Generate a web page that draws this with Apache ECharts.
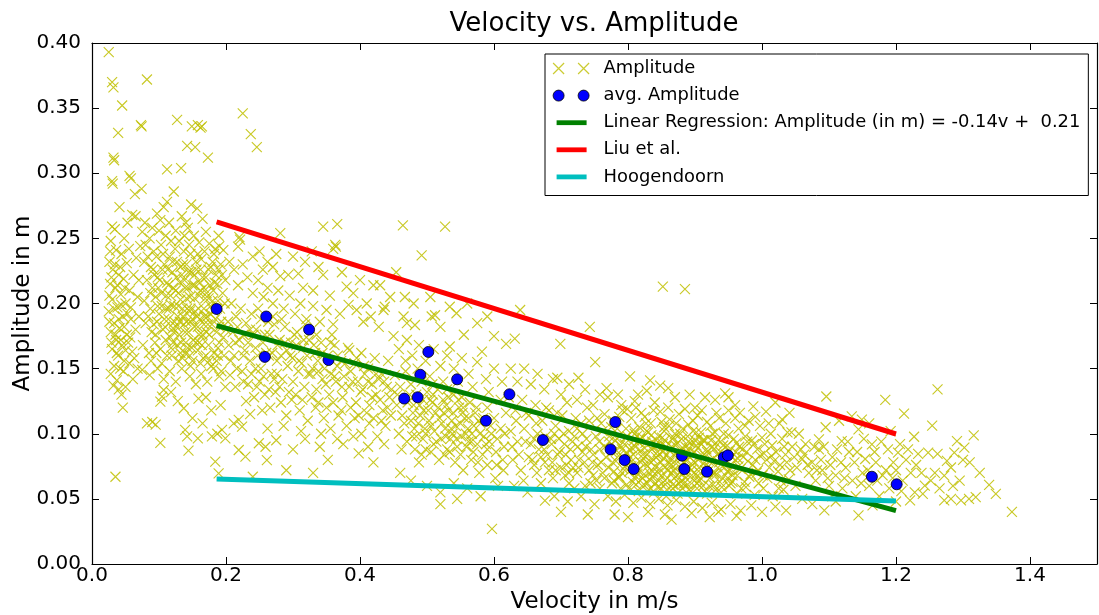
<!DOCTYPE html>
<html>
<head>
<meta charset="utf-8">
<script src="https://cdn.jsdelivr.net/npm/echarts@6/dist/echarts.min.js"></script>
<style>html,body{margin:0;padding:0;background:#fff}#c{width:1099px;height:615px}</style>
</head>
<body>
<div id="c"></div>
<script>
// ---- data ----
const xTicks = [0.0, 0.2, 0.4, 0.6, 0.8, 1.0, 1.2, 1.4];
const yTicks = [0.00, 0.05, 0.10, 0.15, 0.20, 0.25, 0.30, 0.35, 0.40];

// individual measurements [velocity, amplitude]
const amplitudePoints = [
// v 0.02-0.08
[0.025,0.393],[0.030,0.370],[0.032,0.366],[0.045,0.352],[0.039,0.331],[0.032,0.312],[0.033,0.310],[0.030,0.294],[0.031,0.292],[0.041,0.274],
[0.030,0.259],[0.034,0.257],[0.028,0.248],[0.036,0.241],[0.044,0.238],[0.026,0.232],[0.052,0.231],[0.031,0.226],[0.040,0.222],[0.047,0.219],
[0.027,0.215],[0.035,0.212],[0.056,0.210],[0.043,0.207],[0.030,0.203],[0.050,0.200],[0.038,0.197],[0.025,0.194],[0.046,0.190],[0.058,0.188],
[0.033,0.185],[0.041,0.181],[0.028,0.178],[0.052,0.176],[0.036,0.172],[0.045,0.168],[0.030,0.165],[0.060,0.163],[0.039,0.160],[0.048,0.156],
[0.033,0.152],[0.047,0.148],[0.037,0.141],[0.032,0.137],[0.050,0.136],[0.044,0.130],[0.046,0.120],[0.035,0.067],[0.055,0.242],[0.062,0.222],
[0.058,0.197],[0.065,0.180],[0.063,0.158],[0.054,0.170],[0.068,0.205],[0.066,0.235],[0.060,0.268],[0.065,0.267],[0.058,0.296],[0.056,0.298],
[0.064,0.284],[0.074,0.288],[0.074,0.336],[0.073,0.337],[0.082,0.372],
[0.027,0.240],[0.034,0.230],[0.042,0.228],[0.029,0.220],[0.038,0.214],[0.049,0.212],[0.026,0.206],[0.044,0.199],[0.033,0.196],[0.053,0.192],
[0.040,0.188],[0.026,0.186],[0.048,0.182],[0.035,0.176],[0.057,0.174],[0.043,0.172],[0.029,0.170],[0.050,0.164],[0.037,0.162],[0.056,0.154],
[0.042,0.150],[0.028,0.146],[0.061,0.142],[0.040,0.134],[0.068,0.150],[0.070,0.190],[0.070,0.218],[0.072,0.244],[0.048,0.250],[0.053,0.262],
// v 0.08-0.20
[0.097,0.269],[0.102,0.264],[0.112,0.278],[0.107,0.274],[0.112,0.303],[0.133,0.304],[0.122,0.286],[0.127,0.341],[0.149,0.336],[0.158,0.337],
[0.162,0.335],[0.164,0.336],[0.142,0.321],[0.154,0.320],[0.173,0.312],[0.148,0.276],[0.157,0.273],[0.134,0.267],[0.140,0.262],[0.165,0.265],
[0.075,0.255],[0.080,0.245],[0.086,0.250],[0.092,0.240],[0.078,0.232],[0.088,0.228],[0.096,0.236],[0.103,0.245],[0.110,0.252],[0.118,0.248],
[0.125,0.256],[0.130,0.248],[0.138,0.252],[0.145,0.245],[0.152,0.252],[0.160,0.247],[0.168,0.240],[0.175,0.246],[0.182,0.238],[0.190,0.244],
[0.196,0.241],[0.184,0.242],[0.082,0.218],[0.090,0.212],[0.098,0.220],[0.105,0.226],[0.112,0.216],[0.120,0.224],[0.127,0.232],[0.134,0.222],
[0.141,0.230],[0.148,0.224],[0.155,0.232],[0.162,0.226],[0.170,0.220],[0.177,0.228],[0.185,0.222],[0.192,0.230],[0.199,0.218],[0.116,0.236],
[0.137,0.240],[0.158,0.238],[0.078,0.202],[0.087,0.196],[0.095,0.205],[0.104,0.198],[0.111,0.206],[0.118,0.199],[0.125,0.210],[0.132,0.203],
[0.139,0.212],[0.146,0.205],[0.153,0.214],[0.160,0.206],[0.167,0.212],[0.174,0.204],[0.181,0.210],[0.188,0.202],[0.195,0.208],[0.142,0.196],
[0.128,0.190],[0.150,0.188],[0.080,0.185],[0.089,0.178],[0.097,0.186],[0.106,0.180],[0.114,0.188],[0.121,0.181],[0.130,0.176],[0.137,0.184],
[0.144,0.178],[0.151,0.172],[0.158,0.182],[0.165,0.176],[0.172,0.190],[0.179,0.184],[0.186,0.178],[0.193,0.186],[0.200,0.180],[0.076,0.168],
[0.085,0.162],[0.094,0.170],[0.102,0.165],[0.110,0.172],[0.119,0.160],[0.127,0.168],[0.135,0.158],[0.143,0.166],[0.150,0.156],[0.158,0.164],
[0.166,0.158],[0.174,0.168],[0.182,0.162],[0.190,0.170],[0.197,0.160],[0.075,0.149],[0.086,0.145],[0.098,0.150],[0.107,0.142],[0.116,0.148],
[0.125,0.140],[0.134,0.150],[0.146,0.144],[0.155,0.138],[0.163,0.146],[0.172,0.140],[0.181,0.150],[0.190,0.144],[0.199,0.136],[0.1045,0.1285],
[0.107,0.1336],[0.102,0.1246],[0.159,0.127],[0.137,0.1196],[0.090,0.109],[0.082,0.108],[0.095,0.107],[0.139,0.103],[0.142,0.098],[0.158,0.0965],
[0.144,0.087],[0.102,0.093],[0.184,0.0786],[0.189,0.0696],[0.179,0.098],[0.187,0.100],[0.194,0.103],[0.199,0.0965],[0.118,0.132],[0.128,0.125],
[0.170,0.128],[0.178,0.118],[0.192,0.122],[0.150,0.112],[0.165,0.108],
[0.083,0.236],[0.091,0.226],[0.099,0.212],[0.106,0.238],[0.113,0.226],[0.121,0.212],[0.124,0.242],[0.131,0.216],[0.136,0.230],[0.143,0.212],
[0.147,0.238],[0.153,0.222],[0.161,0.216],[0.163,0.234],[0.169,0.204],[0.176,0.214],[0.180,0.232],[0.187,0.215],[0.194,0.222],[0.198,0.200],
[0.084,0.190],[0.092,0.184],[0.100,0.192],[0.108,0.188],[0.115,0.196],[0.123,0.186],[0.129,0.198],[0.136,0.190],[0.140,0.170],[0.147,0.186],
[0.154,0.194],[0.161,0.188],[0.167,0.196],[0.171,0.178],[0.177,0.198],[0.184,0.188],[0.191,0.196],[0.196,0.174],
[0.088,0.156],[0.096,0.162],[0.104,0.154],[0.112,0.160],[0.121,0.170],[0.129,0.156],[0.139,0.162],[0.147,0.152],[0.155,0.170],[0.162,0.154],
[0.170,0.160],[0.178,0.152],[0.186,0.156],[0.193,0.148],
[0.079,0.262],[0.090,0.258],[0.100,0.256],[0.115,0.262],[0.143,0.258],[0.170,0.255],[0.189,0.252],
[0.101,0.218],[0.104,0.208],[0.108,0.230],[0.111,0.196],[0.114,0.214],[0.117,0.206],[0.120,0.232],[0.123,0.198],[0.126,0.220],[0.129,0.208],
[0.132,0.228],[0.135,0.196],[0.138,0.218],[0.141,0.204],[0.144,0.224],[0.147,0.196],[0.150,0.214],[0.153,0.204],[0.156,0.226],[0.159,0.196],
[0.162,0.210],[0.165,0.220],[0.168,0.190],[0.171,0.208],[0.174,0.226],[0.177,0.192],[0.180,0.202],[0.183,0.216],[0.186,0.196],[0.189,0.226],
[0.122,0.178],[0.131,0.186],[0.139,0.178],[0.146,0.194],[0.153,0.182],[0.160,0.176],[0.167,0.184],[0.175,0.176],[0.182,0.194],[0.190,0.182],
[0.109,0.182],[0.117,0.174],[0.126,0.182],[0.133,0.170],[0.141,0.186],[0.149,0.166],[0.157,0.190],[0.164,0.168],[0.173,0.184],[0.188,0.166],
[0.118,0.166],[0.132,0.162],[0.146,0.160],[0.160,0.170],[0.175,0.156],[0.188,0.160],[0.098,0.198],[0.093,0.222],[0.087,0.208],[0.095,0.176],
// v 0.20-0.45
[0.225,0.346],[0.237,0.330],[0.246,0.320],[0.281,0.254],[0.345,0.259],[0.366,0.261],[0.363,0.245],[0.360,0.242],[0.364,0.2436],[0.220,0.251],
[0.218,0.2436],[0.221,0.249],[0.338,0.228],[0.345,0.222],[0.380,0.213],[0.373,0.224],[0.281,0.221],[0.293,0.222],[0.308,0.223],[0.420,0.214],
[0.430,0.214],[0.454,0.224],[0.464,0.260],[0.527,0.259],[0.492,0.237],
[0.205,0.232],[0.212,0.226],[0.218,0.214],[0.225,0.230],[0.232,0.220],[0.240,0.208],[0.248,0.218],[0.256,0.205],[0.262,0.212],[0.270,0.200],
[0.278,0.210],[0.286,0.196],[0.295,0.206],[0.303,0.192],[0.311,0.200],[0.320,0.188],[0.330,0.198],[0.340,0.186],[0.350,0.195],[0.360,0.184],
[0.370,0.192],[0.383,0.199],[0.395,0.195],[0.405,0.186],[0.416,0.190],[0.428,0.182],[0.437,0.1975],[0.435,0.195],
[0.208,0.200],[0.215,0.190],[0.222,0.196],[0.230,0.185],[0.238,0.192],[0.245,0.180],[0.252,0.188],[0.265,0.176],[0.272,0.184],[0.280,0.172],
[0.288,0.182],[0.297,0.170],[0.306,0.178],[0.315,0.166],[0.324,0.172],[0.333,0.162],[0.342,0.170],[0.352,0.160],[0.362,0.168],[0.372,0.156],
[0.382,0.166],[0.392,0.154],[0.402,0.162],[0.412,0.150],[0.422,0.158],[0.432,0.146],[0.442,0.156],
[0.204,0.168],[0.212,0.160],[0.220,0.172],[0.228,0.164],[0.236,0.156],[0.244,0.166],[0.252,0.150],[0.260,0.162],[0.268,0.146],[0.276,0.156],
[0.284,0.142],[0.292,0.152],[0.300,0.140],[0.308,0.148],[0.317,0.136],[0.326,0.146],[0.335,0.134],[0.344,0.142],[0.354,0.130],[0.364,0.140],
[0.374,0.128],[0.384,0.136],[0.394,0.124],[0.404,0.134],[0.414,0.122],[0.424,0.130],[0.434,0.118],[0.444,0.128],
[0.206,0.145],[0.214,0.136],[0.224,0.148],[0.233,0.138],[0.242,0.128],[0.250,0.140],[0.258,0.130],[0.266,0.120],[0.274,0.132],[0.282,0.124],
[0.290,0.114],[0.298,0.126],[0.310,0.118],[0.322,0.110],[0.334,0.120],[0.346,0.112],[0.356,0.104],[0.368,0.114],[0.380,0.106],[0.392,0.112],
[0.402,0.100],[0.414,0.108],[0.426,0.098],[0.438,0.106],
[0.2115,0.108],[0.219,0.1106],[0.224,0.1054],[0.249,0.0927],[0.259,0.090],[0.261,0.0798],[0.219,0.0875],[0.229,0.0824],[0.275,0.095],[0.300,0.088],
[0.318,0.096],[0.340,0.090],[0.352,0.080],[0.375,0.092],[0.398,0.085],[0.420,0.078],[0.290,0.072],[0.330,0.070],[0.240,0.067],[0.262,0.104],
[0.236,0.115],[0.250,0.240],[0.262,0.232],[0.275,0.238],[0.300,0.236],[0.318,0.232],[0.328,0.240],[0.255,0.226],[0.270,0.228],[0.240,0.236],
[0.315,0.212],[0.330,0.210],[0.355,0.206],[0.390,0.208],[0.400,0.218],[0.410,0.200],[0.445,0.205],[0.467,0.205],[0.465,0.190],[0.482,0.1835],
[0.507,0.190],[0.512,0.191],[0.534,0.1975],[0.544,0.1925],[0.534,0.167],[0.582,0.163],
[0.203,0.186],[0.210,0.178],[0.217,0.182],[0.226,0.176],[0.233,0.170],[0.241,0.176],[0.247,0.160],[0.255,0.170],[0.263,0.186],[0.269,0.162],
[0.277,0.168],[0.283,0.188],[0.291,0.164],[0.299,0.158],[0.305,0.168],[0.313,0.154],[0.321,0.160],[0.329,0.150],[0.337,0.156],[0.347,0.150],
[0.357,0.146],[0.366,0.152],[0.376,0.144],[0.386,0.148],[0.397,0.140],[0.407,0.146],[0.418,0.138],[0.428,0.142],[0.440,0.136],
[0.207,0.156],[0.216,0.150],[0.226,0.140],[0.238,0.146],[0.246,0.136],[0.256,0.144],[0.264,0.134],[0.272,0.142],[0.280,0.136],[0.294,0.132],
[0.304,0.130],[0.314,0.126],[0.328,0.128],[0.338,0.124],[0.350,0.120],[0.360,0.124],[0.372,0.118],[0.386,0.120],[0.398,0.114],[0.410,0.116],
[0.420,0.112],[0.432,0.110],[0.446,0.114],
[0.230,0.125],[0.254,0.118],[0.286,0.106],[0.312,0.102],[0.342,0.100],[0.366,0.096],[0.390,0.098],[0.412,0.090],[0.436,0.092],
[0.288,0.170],[0.296,0.160],[0.302,0.176],[0.309,0.156],[0.316,0.172],[0.323,0.146],[0.331,0.168],[0.338,0.148],[0.344,0.162],[0.349,0.138],
[0.356,0.170],[0.362,0.144],[0.367,0.160],[0.373,0.136],[0.378,0.154],[0.384,0.164],[0.389,0.140],[0.395,0.158],[0.401,0.132],[0.406,0.152],
[0.412,0.140],[0.418,0.128],[0.424,0.146],[0.430,0.126],[0.436,0.140],[0.441,0.120],[0.447,0.134],
[0.258,0.176],[0.264,0.160],[0.270,0.190],[0.276,0.146],[0.282,0.160],[0.248,0.196],[0.236,0.180],[0.226,0.160],[0.214,0.170],[0.244,0.150],
[0.318,0.184],[0.335,0.176],[0.358,0.176],
// v 0.45-0.62
[0.450,0.175],[0.458,0.165],[0.470,0.172],[0.478,0.160],[0.488,0.168],[0.498,0.156],[0.510,0.165],[0.520,0.152],[0.530,0.160],[0.540,0.150],
[0.552,0.158],[0.562,0.146],[0.575,0.155],[0.588,0.142],[0.600,0.150],[0.612,0.140],
[0.452,0.145],[0.460,0.136],[0.468,0.148],[0.476,0.138],[0.484,0.130],[0.492,0.140],[0.500,0.132],[0.508,0.124],[0.516,0.134],[0.524,0.126],
[0.532,0.118],[0.540,0.130],[0.548,0.120],[0.556,0.112],[0.564,0.124],[0.572,0.116],[0.580,0.108],[0.590,0.120],[0.600,0.112],[0.610,0.104],
[0.618,0.116],[0.455,0.122],[0.463,0.114],[0.471,0.124],[0.479,0.116],[0.487,0.108],[0.495,0.118],[0.503,0.110],[0.511,0.102],[0.519,0.112],
[0.527,0.104],[0.535,0.096],[0.543,0.106],[0.551,0.098],[0.559,0.090],[0.567,0.100],[0.575,0.092],[0.583,0.084],[0.593,0.094],[0.603,0.086],
[0.613,0.080],[0.458,0.100],[0.470,0.094],[0.482,0.088],[0.494,0.096],[0.506,0.086],[0.518,0.080],[0.530,0.088],[0.542,0.078],[0.554,0.072],
[0.566,0.080],[0.578,0.070],[0.590,0.076],[0.602,0.066],[0.614,0.072],[0.460,0.070],[0.476,0.064],[0.500,0.060],[0.520,0.055],[0.540,0.062],
[0.560,0.058],[0.580,0.052],[0.520,0.046],[0.545,0.050],[0.597,0.027],[0.606,0.060],[0.488,0.078],[0.505,0.205],[0.520,0.182],[0.555,0.176],
[0.590,0.190],[0.560,0.200],[0.600,0.175],[0.575,0.185],[0.480,0.200],[0.470,0.185],
[0.456,0.130],[0.466,0.108],[0.474,0.130],[0.481,0.104],[0.489,0.122],[0.497,0.104],[0.505,0.126],[0.513,0.116],[0.521,0.096],[0.529,0.122],
[0.537,0.110],[0.545,0.090],[0.553,0.116],[0.561,0.104],[0.569,0.086],[0.577,0.110],[0.585,0.098],[0.595,0.106],[0.605,0.096],[0.615,0.090],
[0.462,0.088],[0.478,0.098],[0.492,0.084],[0.510,0.092],[0.526,0.084],[0.538,0.100],[0.550,0.084],[0.562,0.094],[0.576,0.078],[0.590,0.088],
[0.604,0.076],[0.616,0.100],[0.468,0.156],[0.486,0.150],[0.504,0.144],[0.524,0.140],[0.546,0.140],[0.568,0.136],[0.592,0.132],[0.610,0.126],
[0.476,0.110],[0.480,0.122],[0.484,0.098],[0.490,0.114],[0.494,0.126],[0.498,0.100],[0.502,0.118],[0.506,0.106],[0.509,0.130],[0.514,0.094],
[0.517,0.120],[0.522,0.108],[0.525,0.116],[0.528,0.098],[0.532,0.128],[0.536,0.104],[0.539,0.116],[0.544,0.096],[0.547,0.126],[0.550,0.108],
[0.554,0.120],[0.558,0.100],[0.562,0.112],[0.566,0.094],[0.570,0.106],[0.574,0.120],[0.579,0.100],[0.584,0.112],[0.588,0.092],[0.596,0.100],
[0.508,0.138],[0.530,0.134],[0.552,0.128],[0.498,0.088],[0.534,0.086],
// v 0.62-0.78
[0.639,0.195],[0.631,0.173],[0.618,0.169],[0.699,0.169],[0.743,0.182],[0.751,0.155],[0.6945,0.143],[0.726,0.143],[0.676,0.0486],
[0.625,0.150],[0.635,0.140],[0.645,0.150],[0.655,0.138],[0.665,0.146],[0.675,0.134],[0.688,0.142],[0.700,0.130],[0.712,0.138],[0.724,0.126],
[0.736,0.134],[0.748,0.122],[0.758,0.130],[0.622,0.128],[0.632,0.118],[0.642,0.126],[0.652,0.114],[0.662,0.122],[0.672,0.110],[0.682,0.118],
[0.692,0.106],[0.702,0.114],[0.712,0.102],[0.722,0.112],[0.732,0.100],[0.742,0.110],[0.752,0.098],[0.760,0.108],[0.625,0.102],[0.635,0.094],
[0.645,0.104],[0.655,0.092],[0.665,0.100],[0.675,0.088],[0.685,0.096],[0.695,0.084],[0.705,0.092],[0.715,0.080],[0.725,0.090],[0.735,0.078],
[0.745,0.088],[0.755,0.076],[0.628,0.080],[0.640,0.072],[0.652,0.082],[0.664,0.070],[0.676,0.078],[0.688,0.066],[0.700,0.074],[0.712,0.062],
[0.724,0.070],[0.736,0.060],[0.748,0.068],[0.758,0.058],[0.630,0.060],[0.650,0.055],[0.670,0.062],[0.690,0.052],[0.710,0.048],[0.730,0.052],
[0.750,0.046],[0.700,0.040],[0.740,0.038],
[0.627,0.090],[0.637,0.084],[0.647,0.094],[0.657,0.080],[0.667,0.088],[0.677,0.098],[0.687,0.078],[0.697,0.096],[0.707,0.084],[0.717,0.094],
[0.727,0.080],[0.737,0.090],[0.747,0.078],[0.757,0.094],[0.633,0.110],[0.648,0.116],[0.663,0.108],[0.678,0.120],[0.694,0.116],[0.709,0.124],
[0.724,0.104],[0.739,0.120],[0.754,0.112],[0.644,0.064],[0.660,0.076],[0.682,0.072],[0.706,0.068],[0.720,0.058],[0.744,0.062],[0.718,0.074],
[0.680,0.084],[0.686,0.092],[0.692,0.072],[0.698,0.086],[0.704,0.100],[0.708,0.076],[0.714,0.088],[0.720,0.098],[0.726,0.074],[0.732,0.086],
[0.738,0.096],[0.742,0.072],[0.748,0.084],[0.753,0.064],[0.758,0.088],[0.762,0.070],[0.767,0.082],[0.772,0.094],[0.777,0.078],[0.779,0.064],
[0.660,0.096],[0.670,0.082],[0.690,0.100],[0.712,0.070],[0.730,0.108],
// v 0.76-1.05
[0.852,0.213],[0.885,0.211],[0.803,0.144],[0.848,0.137],[0.833,0.141],[0.865,0.034],[0.922,0.036],[0.962,0.037],[0.945,0.131],[0.987,0.121],
[1.006,0.117],[0.967,0.116],[0.997,0.106],[1.041,0.116],[1.038,0.101],[1.026,0.108],
[0.770,0.128],[0.790,0.122],[0.815,0.130],[0.840,0.124],[0.870,0.128],[0.900,0.120],[0.930,0.126],[0.960,0.122],[1.020,0.124],
[0.765,0.115],[0.778,0.110],[0.792,0.118],[0.805,0.112],[0.820,0.116],[0.834,0.108],[0.848,0.117],[0.862,0.111],[0.876,0.115],[0.890,0.107],
[0.904,0.114],[0.918,0.109],[0.932,0.116],[0.946,0.108],[0.960,0.112],[0.975,0.106],[0.990,0.113],[1.010,0.108],[1.030,0.111],
[0.762,0.102],[0.772,0.098],[0.784,0.104],[0.796,0.097],[0.808,0.103],[0.818,0.096],[0.830,0.101],[0.842,0.095],[0.854,0.102],[0.866,0.096],
[0.878,0.100],[0.890,0.094],[0.902,0.101],[0.914,0.095],[0.926,0.100],[0.938,0.094],[0.950,0.099],[0.962,0.093],[0.975,0.098],[0.988,0.092],
[1.000,0.097],[1.015,0.091],[1.030,0.096],[1.045,0.090],
[0.766,0.090],[0.776,0.086],[0.788,0.091],[0.799,0.085],[0.811,0.090],[0.822,0.084],[0.834,0.089],[0.845,0.083],[0.857,0.090],[0.868,0.084],
[0.880,0.088],[0.892,0.082],[0.904,0.089],[0.916,0.083],[0.928,0.088],[0.940,0.082],[0.952,0.087],[0.964,0.081],[0.977,0.086],[0.990,0.080],
[1.003,0.085],[1.018,0.079],[1.035,0.084],
[0.760,0.078],[0.771,0.074],[0.782,0.079],[0.793,0.073],[0.804,0.078],[0.815,0.072],[0.826,0.077],[0.837,0.071],[0.849,0.078],[0.860,0.072],
[0.872,0.077],[0.884,0.071],[0.896,0.076],[0.908,0.070],[0.920,0.075],[0.932,0.069],[0.944,0.074],[0.956,0.068],[0.968,0.073],[0.981,0.067],
[0.994,0.072],[1.008,0.066],[1.024,0.071],[1.040,0.065],
[0.765,0.066],[0.776,0.062],[0.787,0.067],[0.798,0.061],[0.810,0.066],[0.821,0.060],[0.832,0.065],[0.844,0.059],[0.855,0.064],[0.867,0.058],
[0.879,0.063],[0.891,0.057],[0.903,0.062],[0.915,0.056],[0.927,0.061],[0.939,0.055],[0.951,0.060],[0.963,0.054],[0.976,0.059],[0.989,0.053],
[1.002,0.058],[1.016,0.052],[1.032,0.057],
[0.770,0.052],[0.782,0.048],[0.795,0.053],[0.808,0.047],[0.820,0.051],[0.833,0.046],[0.846,0.050],[0.859,0.045],[0.872,0.049],[0.885,0.044],
[0.898,0.048],[0.911,0.043],[0.925,0.047],[0.939,0.042],[0.953,0.046],[0.968,0.041],[0.984,0.045],[1.000,0.040],[1.020,0.044],
[0.780,0.038],[0.800,0.036],[0.830,0.040],[0.855,0.038],[0.895,0.039],[0.935,0.040],
[0.803,0.082],[0.814,0.069],[0.826,0.093],[0.838,0.080],[0.850,0.068],[0.862,0.087],[0.874,0.093],[0.886,0.066],[0.898,0.079],[0.910,0.092],
[0.922,0.066],[0.817,0.105],[0.829,0.075],[0.841,0.062],[0.853,0.081],[0.865,0.070],[0.877,0.082],[0.889,0.098],[0.901,0.069],[0.913,0.077],
[0.795,0.092],[0.807,0.063],[0.819,0.087],[0.831,0.057],[0.843,0.091],[0.855,0.074],[0.867,0.061],[0.879,0.076],[0.891,0.089],[0.903,0.058],
[0.781,0.095],[0.786,0.083],[0.791,0.070],[0.797,0.104],[0.801,0.058],[0.806,0.089],[0.811,0.076],[0.813,0.098],[0.818,0.064],[0.823,0.081],
[0.827,0.108],[0.832,0.070],[0.836,0.094],[0.839,0.055],[0.844,0.086],[0.847,0.073],[0.851,0.097],[0.856,0.061],[0.858,0.084],[0.861,0.106],
[0.864,0.076],[0.869,0.066],[0.871,0.091],[0.874,0.054],[0.878,0.084],[0.882,0.104],[0.884,0.062],[0.887,0.079],[0.893,0.093],[0.895,0.068],
[0.899,0.086],[0.906,0.074],[0.909,0.101],[0.912,0.060],[0.917,0.088],[0.921,0.079],[0.924,0.095],[0.929,0.070],[0.933,0.084],[0.937,0.063],
[0.942,0.091],[0.945,0.077],[0.949,0.066],[0.955,0.082],[0.958,0.096],[0.965,0.075],[0.971,0.088],[0.974,0.063],[0.979,0.079],[0.985,0.095],
[0.992,0.070],[0.997,0.083],[1.004,0.092],[1.011,0.074],[1.021,0.086],[1.028,0.064],[1.037,0.078],[1.044,0.101],
[0.783,0.087],[0.789,0.058],[0.794,0.081],[0.802,0.071],[0.809,0.095],[0.816,0.056],[0.824,0.069],[0.828,0.084],[0.835,0.099],[0.840,0.075],
[0.846,0.064],[0.852,0.092],[0.857,0.052],[0.863,0.080],[0.868,0.097],[0.873,0.068],[0.881,0.058],[0.888,0.086],[0.894,0.072],[0.900,0.095],
[0.907,0.064],[0.911,0.083],[0.919,0.071],[0.926,0.090],[0.931,0.057],[0.936,0.078],[0.943,0.100],[0.948,0.071],[0.953,0.062],[0.961,0.086],
[0.969,0.058],[0.978,0.094],[0.986,0.076],[0.995,0.062],[1.007,0.080],[1.013,0.100],[1.025,0.058],[1.033,0.090],
[0.775,0.105],[0.779,0.071],[0.787,0.113],[0.799,0.119],[0.812,0.120],[0.825,0.113],[0.838,0.118],[0.850,0.109],[0.860,0.120],[0.872,0.108],
[0.885,0.119],[0.897,0.110],[0.910,0.118],[0.923,0.106],[0.936,0.112],[0.950,0.118],[0.965,0.104],[0.980,0.110],
[0.768,0.135],[0.785,0.130],[0.810,0.125],[0.828,0.133],[0.860,0.135],[0.892,0.130],[0.915,0.128],[0.950,0.128],
[0.802,0.088],[0.805,0.075],[0.808,0.084],[0.812,0.061],[0.815,0.094],[0.819,0.078],[0.822,0.066],[0.825,0.089],[0.829,0.062],[0.833,0.079],
[0.836,0.067],[0.839,0.090],[0.842,0.082],[0.845,0.070],[0.849,0.058],[0.852,0.086],[0.855,0.095],[0.859,0.066],[0.862,0.078],[0.865,0.090],
[0.868,0.072],[0.871,0.060],[0.874,0.086],[0.877,0.070],[0.880,0.096],[0.883,0.078],[0.886,0.090],[0.889,0.061],[0.892,0.074],[0.896,0.084],
[0.899,0.064],[0.902,0.091],[0.905,0.080],[0.908,0.066],[0.912,0.095],[0.915,0.072],[0.918,0.086],[0.921,0.060],[0.925,0.080],[0.928,0.069],
[0.931,0.093],[0.934,0.074],[0.938,0.086],[0.941,0.066],[0.944,0.081],[0.948,0.091],[0.952,0.072],[0.956,0.063],[0.960,0.080],[0.966,0.090],
[0.810,0.100],[0.822,0.097],[0.834,0.058],[0.846,0.098],[0.858,0.057],[0.870,0.100],[0.882,0.069],[0.894,0.056],[0.906,0.097],[0.918,0.054],
[0.797,0.076],[0.791,0.088],[0.786,0.066],[0.799,0.098],[0.784,0.096],[0.828,0.102],[0.854,0.105],[0.876,0.062],[0.897,0.102],[0.930,0.101],
[0.940,0.059],[0.963,0.068],[0.972,0.082],[0.983,0.069],[0.993,0.088],[1.001,0.068],[1.014,0.083],[1.027,0.076],[1.042,0.072],[1.048,0.082],
// v 1.05-1.25
[1.096,0.1286],[1.184,0.126],[1.212,0.1154],[1.227,0.0977],[1.233,0.0845],[1.248,0.0855],[1.203,0.0855],[1.196,0.078],[1.188,0.088],[1.164,0.0918],
[1.154,0.0806],[1.144,0.1033],[1.134,0.1134],[1.149,0.1109],[1.119,0.0944],[1.085,0.0957],[1.085,0.088],[1.060,0.0806],[1.075,0.078],[1.036,0.0412],
[1.093,0.0412],[1.144,0.0374],[1.221,0.0488],[1.228,0.055],[1.240,0.0538],[1.243,0.0602],[1.252,0.064],
[1.055,0.100],[1.065,0.092],[1.070,0.070],[1.080,0.064],[1.090,0.072],[1.100,0.060],[1.105,0.082],[1.110,0.068],[1.120,0.058],[1.125,0.074],
[1.130,0.086],[1.135,0.064],[1.140,0.052],[1.150,0.070],[1.160,0.060],[1.170,0.078],[1.175,0.052],[1.180,0.068],[1.190,0.058],[1.200,0.072],
[1.210,0.064],[1.215,0.080],[1.060,0.050],[1.075,0.046],[1.110,0.048],[1.165,0.045],[1.200,0.048],[1.050,0.060],[1.095,0.105],[1.115,0.110],
[1.160,0.108],[1.105,0.052],
[1.052,0.074],[1.063,0.084],[1.078,0.090],[1.088,0.080],[1.098,0.066],[1.112,0.088],[1.123,0.066],[1.138,0.078],[1.148,0.062],[1.158,0.072],
[1.172,0.064],[1.185,0.072],[1.195,0.066],[1.208,0.056],[1.222,0.070],
[1.058,0.088],[1.068,0.076],[1.082,0.072],[1.092,0.090],[1.102,0.076],[1.118,0.078],[1.128,0.094],[1.142,0.086],[1.152,0.096],[1.168,0.086],
[1.178,0.094],[1.192,0.102],[1.206,0.092],[1.218,0.088],[1.230,0.076],[1.238,0.070],
// v 1.25-1.38
[1.262,0.134],[1.254,0.1063],[1.316,0.0987],[1.291,0.0944],[1.302,0.0893],[1.287,0.0855],[1.262,0.0845],[1.276,0.0792],[1.282,0.0741],[1.272,0.0678],
[1.339,0.0607],[1.349,0.0538],[1.373,0.040],[1.319,0.0514],[1.309,0.050],[1.297,0.0488],[1.282,0.050],[1.272,0.0488],[1.265,0.058],[1.295,0.064],
[1.310,0.078],[1.325,0.070],[1.300,0.080],[1.285,0.060],[1.258,0.070]
];

// averaged amplitudes
const avgVelocity  = [0.186,0.260,0.258,0.324,0.353,0.466,0.486,0.490,0.502,0.545,0.588,0.623,0.673,0.774,0.781,0.795,0.8085,0.8806,0.884,0.918,0.943,0.949,1.164,1.201];
const avgAmplitude = [0.1958,0.190,0.159,0.180,0.1566,0.127,0.128,0.1453,0.1628,0.1418,0.110,0.1303,0.0952,0.088,0.109,0.0798,0.0729,0.0832,0.0729,0.0709,0.0819,0.0834,0.067,0.0612];

// model lines (endpoints)
const lineVelocity = [0.186, 1.200];
const regressionAmp = [0.183, 0.041];
const liuAmp = [0.2626, 0.0998];
const hoogendoornAmp = [0.0653, 0.0484];

const legendNames = ['Amplitude', 'avg. Amplitude', 'Linear Regression: Amplitude (in m) = -0.14v +  0.21', 'Liu et al.', 'Hoogendoorn'];

// ---- chart ----
const FONT = 'DejaVu Sans';
const zip = (xs, ys) => xs.map((x, i) => [x, ys[i]]);
const chart = echarts.init(document.getElementById('c'), null, {renderer: 'canvas'});

const axisCommon = {
  type: 'value',
  splitLine: {show: false},
  axisLine: {show: true, onZero: false, lineStyle: {color: '#000', width: 1.2}},
  axisTick: {show: true, inside: true, length: 7, lineStyle: {color: '#000', width: 1}},
};

chart.setOption({
  animation: false,
  backgroundColor: '#fff',
  title: {
    text: 'Velocity vs. Amplitude',
    left: 589, top: 6, textAlign: 'center',
    textStyle: {fontFamily: FONT, fontSize: 26, fontWeight: 'normal', color: '#000'}
  },
  grid: {left: 92, right: 2, top: 43, bottom: 51, containLabel: false, outerBoundsMode: 'none'},
  xAxis: [
    Object.assign({}, axisCommon, {
      position: 'bottom', min: 0, max: 1.5,
      name: 'Velocity in m/s', nameLocation: 'middle', nameGap: 27, nameMoveOverlap: false,
      nameTextStyle: {fontFamily: FONT, fontSize: 23, color: '#000'},
      axisTick: Object.assign({}, axisCommon.axisTick, {customValues: xTicks}),
      axisLabel: {customValues: xTicks, margin: 2, fontFamily: FONT, fontSize: 20, color: '#000',
                  formatter: v => v.toFixed(1)}
    }),
    Object.assign({}, axisCommon, {
      position: 'top', min: 0, max: 1.5,
      axisTick: Object.assign({}, axisCommon.axisTick, {customValues: xTicks}),
      axisLabel: {show: false}
    })
  ],
  yAxis: [
    Object.assign({}, axisCommon, {
      position: 'left', min: 0, max: 0.4,
      name: 'Amplitude in m', nameLocation: 'middle', nameGap: 57, nameMoveOverlap: false,
      nameTextStyle: {fontFamily: FONT, fontSize: 23, color: '#000'},
      axisTick: Object.assign({}, axisCommon.axisTick, {customValues: yTicks}),
      axisLabel: {customValues: yTicks, margin: 11, fontFamily: FONT, fontSize: 20, color: '#000',
                  formatter: v => v.toFixed(2)}
    }),
    Object.assign({}, axisCommon, {
      position: 'right', min: 0, max: 0.4,
      axisTick: Object.assign({}, axisCommon.axisTick, {customValues: yTicks}),
      axisLabel: {show: false}
    })
  ],
  legend: {
    orient: 'vertical', left: 545, top: 54,
    padding: [5.5, 8, 9.6, 7], itemGap: 9.1, itemWidth: 46, itemHeight: 14,
    backgroundColor: '#fff', borderColor: '#000', borderWidth: 1, borderRadius: 0,
    selectedMode: false,
    textStyle: {fontFamily: FONT, fontSize: 17.9, color: '#000'},
    data: [
      {name: legendNames[0], icon: 'path://M0,0M46,14M0.5,1.5L11.5,12.5M0.5,12.5L11.5,1.5M25.5,1.5L36.5,12.5M25.5,12.5L36.5,1.5',
       itemStyle: {color: 'rgba(0,0,0,0)', borderColor: 'rgba(191,191,0,0.8)', borderWidth: 1.2, opacity: 1}},
      {name: legendNames[1], icon: 'path://M0,0M46,14M0.5,7A5.5,5.5 0 1,0 11.5,7A5.5,5.5 0 1,0 0.5,7ZM25.5,7A5.5,5.5 0 1,0 36.5,7A5.5,5.5 0 1,0 25.5,7Z',
       itemStyle: {color: '#0000ff', borderColor: '#000', borderWidth: 0.8, opacity: 1}},
      {name: legendNames[2], icon: 'path://M0,0M46,14M4,4.6H34V9.4H4Z', itemStyle: {color: '#008000', borderWidth: 0, opacity: 1}},
      {name: legendNames[3], icon: 'path://M0,0M46,14M4,4.6H34V9.4H4Z', itemStyle: {color: '#ff0000', borderWidth: 0, opacity: 1}},
      {name: legendNames[4], icon: 'path://M0,0M46,14M4,4.6H34V9.4H4Z', itemStyle: {color: '#00bfbf', borderWidth: 0, opacity: 1}}
    ]
  },
  series: [
    {
      name: legendNames[0], type: 'scatter', data: amplitudePoints,
      symbol: 'path://M0,0L10,10M0,10L10,0', symbolSize: 10,
      itemStyle: {color: 'rgba(0,0,0,0)', borderColor: 'rgba(191,191,0,0.85)', borderWidth: 1.15, opacity: 1},
      emphasis: {disabled: true}, silent: true
    },
    {
      name: legendNames[1], type: 'scatter', data: zip(avgVelocity, avgAmplitude),
      symbol: 'circle', symbolSize: 11,
      itemStyle: {color: '#0000ff', borderColor: '#000', borderWidth: 0.8, opacity: 1},
      emphasis: {disabled: true}, silent: true
    },
    {
      name: legendNames[2], type: 'line', data: zip(lineVelocity, regressionAmp),
      symbol: 'none', lineStyle: {color: '#008000', width: 5, cap: 'butt'}, itemStyle: {color: '#008000'},
      emphasis: {disabled: true}, silent: true
    },
    {
      name: legendNames[3], type: 'line', data: zip(lineVelocity, liuAmp),
      symbol: 'none', lineStyle: {color: '#ff0000', width: 5, cap: 'butt'}, itemStyle: {color: '#ff0000'},
      emphasis: {disabled: true}, silent: true
    },
    {
      name: legendNames[4], type: 'line', data: zip(lineVelocity, hoogendoornAmp),
      symbol: 'none', lineStyle: {color: '#00bfbf', width: 5, cap: 'butt'}, itemStyle: {color: '#00bfbf'},
      emphasis: {disabled: true}, silent: true
    }
  ]
});
</script>
</body>
</html>
